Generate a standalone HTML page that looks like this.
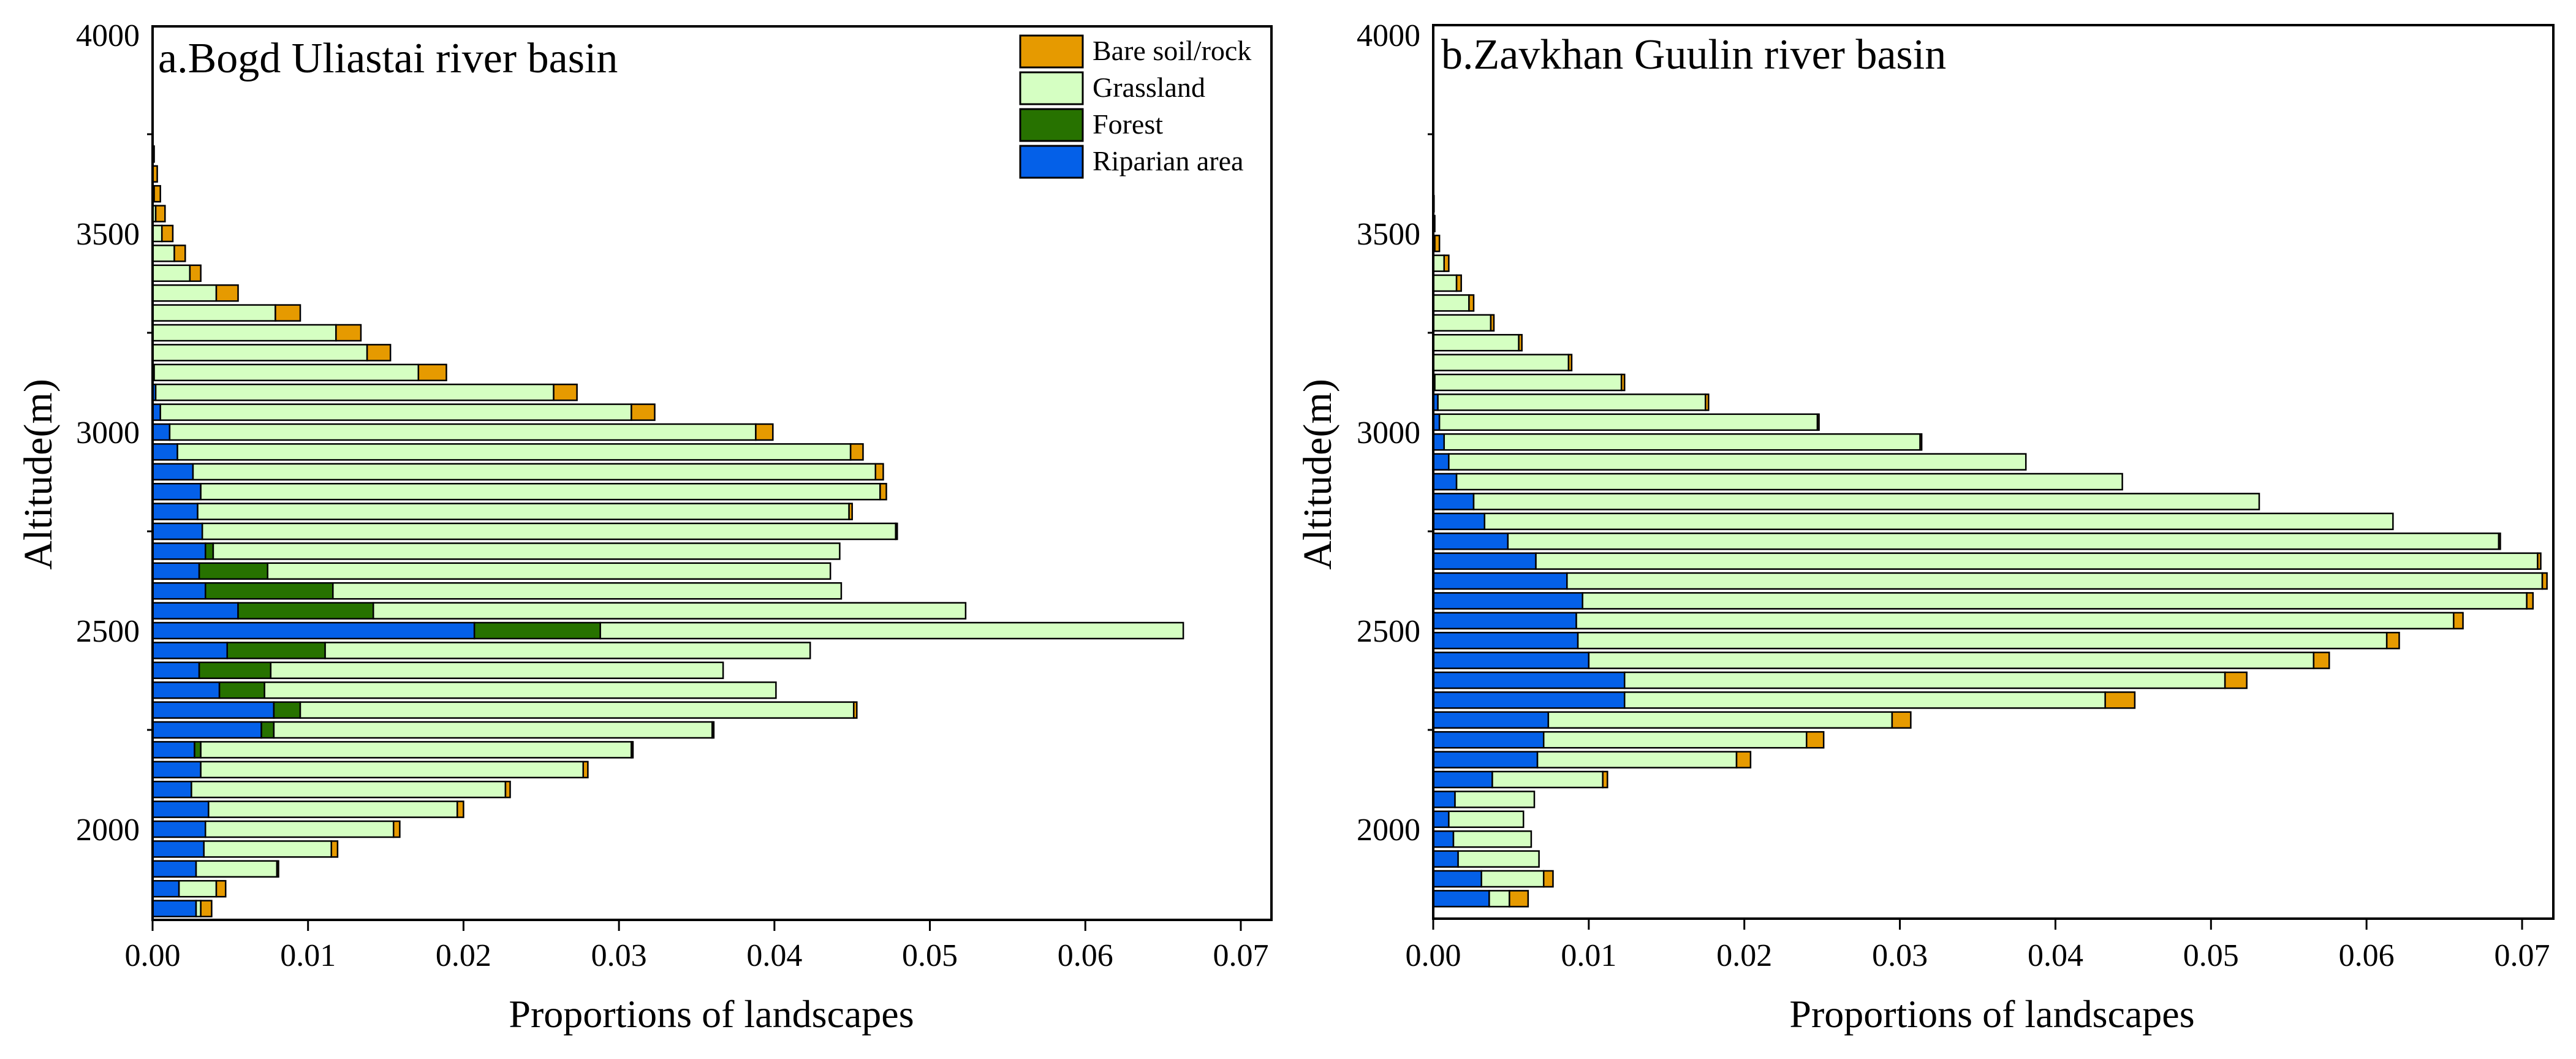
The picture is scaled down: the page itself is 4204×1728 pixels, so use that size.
<!DOCTYPE html>
<html><head><meta charset="utf-8">
<style>
html,body{margin:0;padding:0;background:#fff;}
svg{display:block;}
text{font-family:"Liberation Serif",serif;fill:#000;}
</style></head>
<body>
<svg id="chart" width="4204" height="1728" viewBox="0 0 4204 1728" xmlns="http://www.w3.org/2000/svg"></svg>
<script>
// ---- Panel a: Bogd Uliastai (altitude bins, components) ----
const altA = [1800,1850,1900,1950,2000,2050,2100,2150,2200,2250,2300,2350,2400,2450,2500,2550,2600,2650,2700,2750,2800,2850,2900,2950,3000,3050,3100,3150,3200,3250,3300,3350,3400,3450,3500,3550,3600,3650,3700];
const ripA = [.0028,.0017,.0028,.0033,.0034,.0036,.0025,.0031,.0027,.0070,.0078,.0043,.0030,.0048,.0207,.0055,.0034,.0030,.0034,.0032,.0029,.0031,.0026,.0016,.0011,.0005,.0002,.0001,0,0,0,0,0,0,0,0,0,0,0];
const forA = [0,0,0,0,0,0,0,0,.0004,.0008,.0017,.0029,.0046,.0063,.0081,.0087,.0082,.0044,.0005,0,0,0,0,0,0,0,0,0,0,0,0,0,0,0,0,0,0,0,0];
const graA = [.0003,.0024,.0052,.0082,.0121,.0160,.0202,.0246,.0277,.0282,.0356,.0329,.0291,.0312,.0375,.0381,.0327,.0362,.0403,.0446,.0419,.0437,.0439,.0433,.0377,.0303,.0256,.0170,.0138,.0118,.0079,.0041,.0024,.0014,.0006,.0002,.0001,0,0];
const barA = [.0007,.0006,.0001,.0004,.0004,.0004,.0003,.0003,.0001,.0001,.0002,0,0,0,0,0,0,0,0,.0001,.0002,.0004,.0005,.0008,.0011,.0015,.0015,.0018,.0015,.0016,.0016,.0014,.0007,.0007,.0007,.0006,.0004,.0003,.0001];
// ---- Panel b: Zavkhan Guulin ----
const altB = [1825,1875,1925,1975,2025,2075,2125,2175,2225,2275,2325,2375,2425,2475,2525,2575,2625,2675,2725,2775,2825,2875,2925,2975,3025,3075,3125,3175,3225,3275,3325,3375,3425,3475,3525,3575];
const ripB = [.0036,.0031,.0016,.0013,.0010,.0014,.0038,.0067,.0071,.0074,.0123,.0123,.0100,.0093,.0092,.0096,.0086,.0066,.0048,.0033,.0026,.0015,.0010,.0007,.0004,.0003,.0001,0,0,0,0,0,0,0,0,0];
const forB = ripB.map(()=>0);
const graB = [.0013,.0040,.0052,.0050,.0048,.0051,.0071,.0128,.0169,.0221,.0309,.0386,.0466,.0520,.0564,.0607,.0627,.0644,.0637,.0584,.0505,.0428,.0371,.0306,.0243,.0172,.0120,.0087,.0055,.0037,.0023,.0015,.0007,.0001,.0001,.00005];
const barB = [.0012,.0006,0,0,0,0,.0003,.0009,.0011,.0012,.0019,.0014,.0010,.0008,.0006,.0004,.0003,.0002,.0001,0,0,0,0,.0001,.0001,.0002,.0002,.0002,.0002,.0002,.0003,.0003,.0003,.0003,0,0];
const xTicks = [0,0.01,0.02,0.03,0.04,0.05,0.06,0.07];
const xTickLabels = ["0.00","0.01","0.02","0.03","0.04","0.05","0.06","0.07"];
const yTicks = [2000,2500,3000,3500,4000];
const yMinor = [2250,2750,3250,3750];
const colors = {rip:"#0460E8", forest:"#277200", grass:"#D5FFC2", bare:"#E69A00"};

const svg = document.getElementById('chart');
const NS = "http://www.w3.org/2000/svg";
function mk(tag, attrs, parent){ const e=document.createElementNS(NS,tag); for(const k in attrs) e.setAttribute(k,attrs[k]); (parent||svg).appendChild(e); return e; }
const yScale = a => 57 + (4000 - a) * 0.648;
const BAR_H = 26;

function panel(cfg){
  const g = mk('g',{});
  
  
  const xs = v => cfg.x0 + v * cfg.k;
  // bars
  for(let i=0;i<cfg.alt.length;i++){
    const yc = yScale(cfg.alt[i]);
    const segs = [[cfg.rip[i],colors.rip,'riparian'],[cfg.forest[i],colors.forest,'forest'],[cfg.grass[i],colors.grass,'grassland'],[cfg.bare[i],colors.bare,'bare-soil']];
    let acc = 0;
    for(const s of segs){
      if(s[0]<=0) continue;
      const r = mk('rect',{x:xs(acc), y:yc-BAR_H/2, width:Math.max(s[0]*cfg.k,1), height:BAR_H, fill:s[1], stroke:'#000','stroke-width':2.5}, g);
      
      
      acc += s[0];
    }
  }
  // frame
  const fr = mk('rect',{x:cfg.x0, y:cfg.top, width:cfg.right-cfg.x0, height:cfg.bottom-cfg.top, fill:'none', stroke:'#000','stroke-width':4}, g);
  
  
  // x ticks
  xTicks.forEach((t,i)=>{
    const x = xs(t);
    mk('line',{x1:x,y1:cfg.bottom,x2:x,y2:cfg.bottom+18,stroke:'#000','stroke-width':3}, g);
    const tx = mk('text',{x:x,y:1576,'font-size':52,'text-anchor':'middle'}, g);
    tx.textContent = xTickLabels[i];
    
    
  });
  yMinor.forEach(a=>{ mk('line',{x1:cfg.x0-9,y1:yScale(a),x2:cfg.x0,y2:yScale(a),stroke:'#000','stroke-width':3}, g); });
  yTicks.forEach(a=>{
    const ty = mk('text',{x:cfg.x0-21,y:yScale(a)+18,'font-size':52,'text-anchor':'end'}, g);
    ty.textContent = String(a);
    
    
  });
  const xt = mk('text',{x:cfg.xTitleX,y:1676,'font-size':64,'text-anchor':'middle'}, g);
  xt.textContent = 'Proportions of landscapes';
  
  
  const yt = mk('text',{x:0,y:0,'font-size':66,'text-anchor':'middle',transform:`translate(${cfg.yTitleX},774) rotate(-90)`}, g);
  yt.textContent = 'Altitude(m)';
  
  
  const pt = mk('text',{x:cfg.titleX,y:cfg.titleY,'font-size':70}, g);
  pt.textContent = cfg.title;
  
  
}

panel({name:'panel-a-bogd-uliastai', alt:altA, rip:ripA, forest:forA, grass:graA, bare:barA,
  x0:249, k:25371, right:2075, top:43, bottom:1501, xTitleX:1161, yTitleX:84, titleX:258, titleY:118,
  title:'a.Bogd Uliastai river basin'});
panel({name:'panel-b-zavkhan-guulin', alt:altB, rip:ripB, forest:forB, grass:graB, bare:barB,
  x0:2339, k:25386, right:4167, top:41, bottom:1499, xTitleX:3251, yTitleX:2172, titleX:2352, titleY:112,
  title:'b.Zavkhan Guulin river basin'});

// legend
const legendItems = [['Bare soil/rock',colors.bare],['Grassland',colors.grass],['Forest',colors.forest],['Riparian area',colors.rip]];
const lg = mk('g',{});


legendItems.forEach((it,i)=>{
  const y = 58 + i*60;
  const sw = mk('rect',{x:1665,y:y,width:102,height:52,fill:it[1],stroke:'#000','stroke-width':3}, lg);
  
  
  const t = mk('text',{x:1783,y:y+40,'font-size':46}, lg);
  t.textContent = it[0];
  
  
});
</script>
</body></html>
